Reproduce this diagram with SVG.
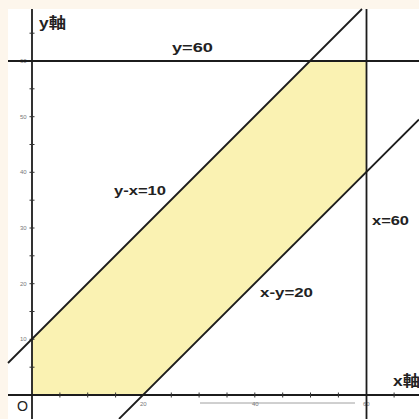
<svg xmlns="http://www.w3.org/2000/svg" width="419" height="419" viewBox="0 0 419 419">
  <style>
    .ax { stroke: #1c1c1c; stroke-width: 1.8; fill: none; }
    .tk { stroke: #333; stroke-width: 1; }
    .lbl { font-family: "Liberation Sans", Arial, sans-serif; font-weight: bold; font-size: 13px; fill: #222; }
    .cjk { font-family: "Liberation Sans", "Noto Sans CJK JP", sans-serif; font-weight: bold; font-size: 15px; fill: #222; }
    .num { font-family: "Liberation Sans", Arial, sans-serif; font-size: 6px; fill: #777; }
  </style>
  <rect x="0" y="0" width="419" height="419" fill="#fdf6ec"/>
  <rect x="8" y="9" width="411" height="410" fill="#ffffff"/>
  <g id="region">
    <polygon points="32,395 32,339.3 310.5,61 366.5,61 366.5,172.3 143.4,395" fill="#faf2b2"/>
  </g>
  <g id="axes">
    <line class="ax" x1="32" y1="9" x2="32" y2="419"/>
    <line class="ax" x1="8" y1="395" x2="419" y2="395"/>
    <g class="tk">
      <line x1="29.5" y1="367.2" x2="34.5" y2="367.2"/>
      <line x1="29.5" y1="339.3" x2="34.5" y2="339.3"/>
      <line x1="29.5" y1="311.5" x2="34.5" y2="311.5"/>
      <line x1="29.5" y1="283.7" x2="34.5" y2="283.7"/>
      <line x1="29.5" y1="255.8" x2="34.5" y2="255.8"/>
      <line x1="29.5" y1="228" x2="34.5" y2="228"/>
      <line x1="29.5" y1="200.2" x2="34.5" y2="200.2"/>
      <line x1="29.5" y1="172.3" x2="34.5" y2="172.3"/>
      <line x1="29.5" y1="144.5" x2="34.5" y2="144.5"/>
      <line x1="29.5" y1="116.7" x2="34.5" y2="116.7"/>
      <line x1="29.5" y1="88.8" x2="34.5" y2="88.8"/>
      <line x1="29.5" y1="33.2" x2="34.5" y2="33.2"/>
      <line x1="59.9" y1="392.5" x2="59.9" y2="397.5"/>
      <line x1="87.7" y1="392.5" x2="87.7" y2="397.5"/>
      <line x1="115.6" y1="392.5" x2="115.6" y2="397.5"/>
      <line x1="171.3" y1="392.5" x2="171.3" y2="397.5"/>
      <line x1="199.1" y1="392.5" x2="199.1" y2="397.5"/>
      <line x1="227" y1="392.5" x2="227" y2="397.5"/>
      <line x1="254.8" y1="392.5" x2="254.8" y2="397.5"/>
      <line x1="282.7" y1="392.5" x2="282.7" y2="397.5"/>
      <line x1="310.5" y1="392.5" x2="310.5" y2="397.5"/>
      <line x1="338.4" y1="392.5" x2="338.4" y2="397.5"/>
      <line x1="394.1" y1="392.5" x2="394.1" y2="397.5"/>
    </g>
    <g class="num">
      <text x="20" y="63">60</text>
      <text x="20" y="119">50</text>
      <text x="20" y="174">40</text>
      <text x="20" y="230">30</text>
      <text x="20" y="286">20</text>
      <text x="20" y="341">10</text>
      <text x="140" y="406">20</text>
      <text x="252" y="406">40</text>
      <text x="363" y="406">60</text>
    </g>
    <line x1="200" y1="403" x2="355" y2="403" stroke="#888" stroke-width="0.8"/>
  </g>
  <g id="connectors">
    <line class="ax" x1="8" y1="61" x2="419" y2="61"/>
    <line class="ax" x1="366.5" y1="9" x2="366.5" y2="419"/>
    <line class="ax" x1="8" y1="363" x2="362" y2="9"/>
    <line class="ax" x1="119" y1="419" x2="419" y2="119.5"/>
  </g>
  <g id="labels">
    <text class="cjk" x="39" y="28" textLength="27" lengthAdjust="spacingAndGlyphs">y軸</text>
    <text class="cjk" x="393" y="386" textLength="27" lengthAdjust="spacingAndGlyphs">x軸</text>
    <text class="lbl" x="172" y="52" textLength="41" lengthAdjust="spacingAndGlyphs">y=60</text>
    <text class="lbl" x="114" y="195" textLength="52" lengthAdjust="spacingAndGlyphs">y-x=10</text>
    <text class="lbl" x="372" y="225" textLength="37" lengthAdjust="spacingAndGlyphs">x=60</text>
    <text class="lbl" x="260" y="297" textLength="53" lengthAdjust="spacingAndGlyphs">x-y=20</text>
    <text x="17" y="411" font-family="Liberation Sans, Arial, sans-serif" font-size="15" fill="#222" textLength="11" lengthAdjust="spacingAndGlyphs">O</text>
  </g>
</svg>
